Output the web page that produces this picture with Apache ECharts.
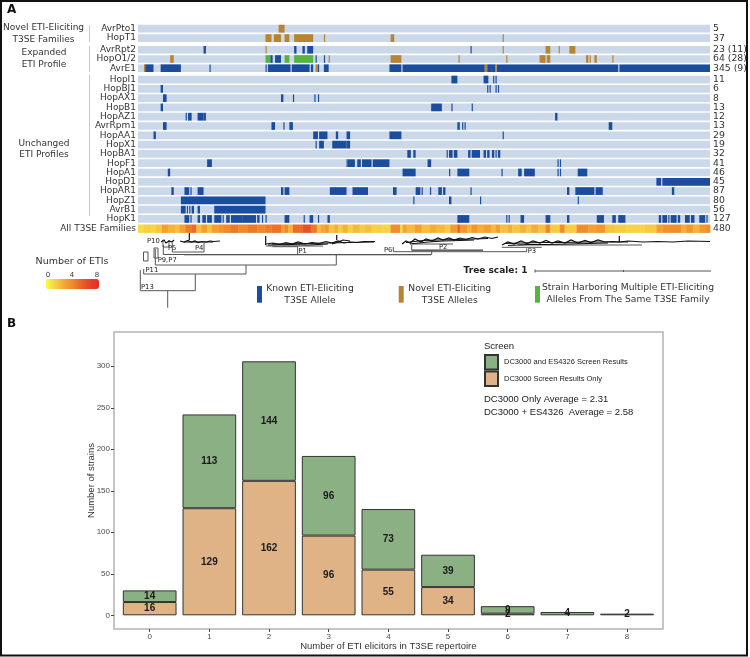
<!DOCTYPE html>
<html><head><meta charset="utf-8">
<style>html,body{margin:0;padding:0;background:#fff}#c{width:750px;height:657px}</style>
<script src="https://cdn.jsdelivr.net/npm/echarts@6/dist/echarts.min.js"></script>
</head><body><div id="c"></div>
<script>
// ---------- Panel A: strain intervals [first, last) by row ----------
const strainCount = 480;
const novelRows = ['AvrPto1','HopT1'];
const novelCounts = ['5','37'];
const expandedRows = ['AvrRpt2','HopO1/2','AvrE1'];
const expandedCounts = ['23 (11)','64 (28)','345 (9)'];
const unchangedRows = ['HopI1','HopBJ1','HopAX1','HopB1','HopAZ1','AvrRpm1','HopAA1','HopX1','HopBA1','HopF1','HopA1','HopD1','HopAR1','HopZ1','AvrB1','HopK1'];
const unchangedCounts = ['11','6','8','13','12','13','29','19','32','41','46','45','87','80','56','127'];
const allRows = ['All T3SE Families'];
const allCounts = ['480'];

const AvrPto1_novel = [[118,123]];
const HopT1_novel = [[107,112],[114,120],[123,127],[131,147],[156,157],[212,215],[306,307]];
const AvrRpt2_known = [[55,57],[131,133],[138,140],[142,147],[279,280]];
const AvrRpt2_novel = [[107,108],[306,307],[342,346],[353,354],[362,367]];
const HopO12_known = [[111,113],[115,120],[149,150],[156,157]];
const HopO12_novel = [[27,30],[160,161],[212,221],[269,270],[309,310],[337,342],[343,346],[376,378],[379,380],[383,385],[398,399]];
const HopO12_multi = [[107,111],[123,127],[131,147]];
const AvrE1_known = [[6,13],[19,36],[60,61],[107,108],[109,128],[129,144],[145,147],[151,152],[156,160],[211,221],[222,291],[293,297],[297,300],[301,403],[404,480]];
const AvrE1_novel = [[5,6],[149,151],[291,293],[300,301]];
const HopI1_known = [[263,268],[290,294],[298,299],[300,301]];
const HopBJ1_known = [[19,21],[293,294],[295,296],[300,301],[302,303]];
const HopAX1_known = [[21,24],[120,122],[130,131],[148,149],[151,152]];
const HopB1_known = [[19,21],[246,255],[263,264],[280,281]];
const HopAZ1_known = [[40,41],[42,45],[50,55],[55,57],[350,352]];
const AvrRpm1_known = [[21,24],[112,115],[122,123],[127,130],[268,270],[272,273],[274,275],[395,398]];
const HopAA1_known = [[13,15],[147,151],[152,159],[166,168],[175,178],[211,221],[306,307]];
const HopX1_known = [[149,150],[152,156],[163,175],[175,178]];
const HopBA1_known = [[226,229],[231,233],[259,260],[261,264],[265,268],[277,279],[280,287],[290,292],[293,295],[297,299],[300,301],[302,304]];
const HopF1_known = [[58,62],[175,176],[176,182],[184,187],[188,196],[197,211],[243,246],[352,353],[354,355]];
const HopA1_known = [[25,27],[222,233],[261,262],[268,278],[305,306],[319,322],[324,333],[352,353],[354,355],[369,377]];
const HopD1_known = [[435,439],[440,480]];
const HopAR1_known = [[28,30],[39,43],[44,45],[50,55],[120,122],[123,127],[161,175],[180,193],[214,217],[233,237],[238,239],[245,246],[252,255],[256,258],[279,280],[360,362],[367,383],[384,390],[448,450]];
const HopZ1_known = [[36,107],[231,232],[261,263],[287,288],[369,370]];
const AvrB1_known = [[36,40],[41,42],[43,44],[45,47],[50,52],[64,107]];
const HopK1_known = [[39,43],[44,45],[50,52],[54,57],[58,62],[64,70],[71,72],[74,77],[78,88],[88,99],[100,102],[104,105],[107,108],[123,127],[139,140],[144,147],[151,152],[159,161],[268,278],[309,310],[311,312],[321,324],[342,346],[360,362],[385,391],[398,401],[403,409],[437,439],[440,444],[445,446],[447,452],[453,455],[459,463],[464,467],[471,476],[477,478]];

// number of ETIs per run of strains: [first, last), value
const etiRuns = [[0,5,1],[5,10,1.4],[10,15,1.2],[15,20,1.8],[20,25,3],[25,31,2.4],[31,35,2],[35,40,3],[40,45,4.4],[45,49,5],[49,53,2],[53,58,3],[58,62,2],[62,68,3],[68,72,3.6],[72,78,4],[78,84,4.6],[84,92,4],[92,100,4.6],[100,106,4],[106,112,4.4],[112,120,4.8],[120,123,3.2],[123,126,4],[126,130,2.4],[130,138,5],[138,145,6],[145,150,4.6],[150,153,2],[153,157,2.8],[157,160,3.4],[160,165,1.8],[165,168,2.6],[168,172,1.6],[172,176,2.4],[176,180,1.4],[180,186,2.2],[186,190,1.6],[190,196,2],[196,205,1.4],[205,212,1.2],[212,220,3.8],[220,222,1],[222,226,2.8],[226,232,2.2],[232,238,3],[238,245,2],[245,250,2.6],[250,258,2.2],[258,262,1.6],[262,268,3.2],[268,270,5.6],[270,276,3.4],[276,280,2.4],[280,285,3.4],[285,290,2.6],[290,296,3],[296,300,2.2],[300,304,3],[304,310,2],[310,314,2.6],[314,320,1.8],[320,326,2.4],[326,330,1.8],[330,336,2.6],[336,342,2],[342,346,4],[346,354,1.5],[354,358,3.8],[358,368,1.5],[368,378,3.8],[378,385,3],[385,392,3.4],[392,400,1.8],[400,410,1.5],[410,425,1.3],[425,435,1.6],[435,440,3],[440,447,3.6],[447,456,3.8],[456,460,2.6],[460,466,3.4],[466,471,2.4],[471,476,3.4],[476,480,3.8]];

// ---------- Phylogeny: branch paths [distance along strains, depth] ----------
const branchPaths = [
 [[29.7,58.7],[29.7,75.7]],
 [[2.3,38],[2.3,58.7],[57.3,58.7],[57.3,42]],
 [[5.7,37],[5.7,42],[108,42],[108,33]],
 [[17.3,17],[17.3,33],[198.3,33],[198.3,23]],
 [[25.3,13],[25.3,22.5],[293.7,22.5],[293.7,18.5]],
 [[34.3,11],[34.3,20],[66,20],[66,11]],
 [[134.3,14.7],[159.7,14.7],[159.7,23]],
 [[127.7,14],[185,14]],
 [[255.3,15],[255.3,19.7],[388.7,19.7],[388.7,16.3]],
 [[363.7,15.3],[403.7,15.3]],
 [[380,13],[504,13]],
 [[273.7,13],[273.7,18],[345,18]],
 [[273.7,12],[315,12]],
 [[5.5,20],[5.5,29],[10,29],[10,20],[5.5,20]],
 [[16,16],[16,26],[20,26],[20,16],[16,16]],
 [[25,8],[25,15],[31,15],[31,8]],
 [[46,22.8],[293,22.8]],
 [[273.7,18.4],[345,18.4]],
 [[397,39],[574,39]],[[397,37.5],[397,40.5]],[[485.5,38],[485.5,40]],[[574,37.5],[574,40.5]]
];
const tipPaths = [
 [[23,10],[26,8],[28,11],[31,9],[34,10],[36,8]],
 [[51.3,1],[51.3,8]],
 [[42,9],[46,10],[50,8.5],[53,10],[57,9],[60,10.5],[64,9.5],[68,10],[72,9],[76,9.5],[82,9]],
 [[46,10],[60,10],[75,10]],
 [[127.7,4],[127.7,13]],
 [[128,12],[135,11],[141,12.5],[148,10.5],[154,12],[160,10],[167,12],[174,10.5],[181,11.5],[188,9.5],[194,11],[200,9],[206,11],[212,10],[219,10.5],[226,9.5],[237,9.5]],
 [[130,13],[150,12.5],[170,13],[190,12]],
 [[134,12],[150,11.8],[170,11.5],[190,11],[210,10.5],[236,10]],
 [[198.7,3],[198.7,8]],
 [[194,12],[200,10],[205,8],[212,9]],
 [[264,12],[268,9],[272,11],[277,7],[283,10],[288,7],[294,9],[300,6],[305,8],[311,6],[316,8],[322,6],[328,7.5],[334,5.5],[340,7],[347,5],[354,6.5],[360,5]],
 [[272,12],[290,10],[306,9],[322,8.5],[336,8]],
 [[268,10.5],[285,8.5],[300,8],[318,7.5],[335,7],[350,6.5]],
 [[364,13],[370,10],[376,12],[383,9],[389,11.5],[395,9],[402,11],[408,8.5],[414,11],[420,9],[427,11],[433,8],[440,11],[447,8.5],[453,10.5],[460,8],[467,10],[475,9.5],[481,10],[490,9],[505,10],[520,9.5],[535,10],[550,9],[572,9.5]],
 [[370,13.5],[390,12.5],[410,12.5],[430,12],[450,11.5],[470,11]],
 [[366,11.5],[385,11],[405,10.5],[425,10.5],[445,10],[465,10],[490,10]],
 [[481.3,4],[481.3,10]]
];

// ---------- Panel B ----------
const elicitorCounts = ['0','1','2','3','4','5','6','7','8'];
const dc3000Only = [16,129,162,96,55,34,2,null,null];
const dc3000AndEs4326 = [14,113,144,96,73,39,9,4,2];
const strainTicks = [0,50,100,150,200,250,300];

// ---------- Styling ----------
const C_BG='#cbd8ea', C_KNOWN='#1b4d9e', C_NOVEL='#b8842f', C_MULTI='#53b53e';
const FA='"DejaVu Sans",sans-serif', FB='"Liberation Sans",Arial,sans-serif';
const groups = [
 {rows:novelRows,counts:novelCounts,top:24,height:18.8},
 {rows:expandedRows,counts:expandedCounts,top:45.2,height:27.6},
 {rows:unchangedRows,counts:unchangedCounts,top:74.9,height:148.7},
 {rows:allRows,counts:allCounts,top:224.5,height:8.4}
];
const knownByRow = {AvrRpt2:AvrRpt2_known,'HopO1/2':HopO12_known,AvrE1:AvrE1_known,HopI1:HopI1_known,HopBJ1:HopBJ1_known,HopAX1:HopAX1_known,HopB1:HopB1_known,HopAZ1:HopAZ1_known,AvrRpm1:AvrRpm1_known,HopAA1:HopAA1_known,HopX1:HopX1_known,HopBA1:HopBA1_known,HopF1:HopF1_known,HopA1:HopA1_known,HopD1:HopD1_known,HopAR1:HopAR1_known,HopZ1:HopZ1_known,AvrB1:AvrB1_known,HopK1:HopK1_known};
const novelByRow = {AvrPto1:AvrPto1_novel,HopT1:HopT1_novel,AvrRpt2:AvrRpt2_novel,'HopO1/2':HopO12_novel,AvrE1:AvrE1_novel};
const multiByRow = {'HopO1/2':HopO12_multi};

function renderInterval(params, api){
  const r = api.value(2);
  const a = api.coord([api.value(0), r]), b = api.coord([api.value(1), r]);
  const h = api.size([0,1])[1]*0.83;
  return {type:'rect',shape:{x:a[0],y:a[1]-h/2,width:b[0]-a[0],height:h},style:api.style()};
}
function renderCell(params, api){
  const a = api.coord([api.value(0), 0]), b = api.coord([api.value(1), 0]);
  const h = api.size([0,1])[1];
  return {type:'rect',shape:{x:a[0],y:a[1]-h/2,width:b[0]-a[0]+0.3,height:h},style:{fill:api.visual('color')}};
}

const grids=[],xAxes=[],yAxes=[],series=[];
groups.forEach((g,i)=>{
  grids.push({left:138,width:572,top:g.top,height:g.height});
  xAxes.push({type:'value',gridIndex:i,min:0,max:strainCount,show:false});
  const yBase={type:'category',gridIndex:i,inverse:true,axisLine:{show:false},axisTick:{show:false},splitLine:{show:false}};
  yAxes.push(Object.assign({},yBase,{position:'left',data:g.rows,axisLabel:{interval:0,margin:2,fontFamily:FA,fontSize:9,color:'#333'}}));
  yAxes.push(Object.assign({},yBase,{position:'right',data:g.counts,axisLabel:{interval:0,margin:3,fontFamily:FA,fontSize:9.3,color:'#333'}}));
});
function addIntervals(i,g,byRow,color,name){
  const data=[];
  g.rows.forEach((r,k)=>{(byRow[r]||[]).forEach(iv=>data.push([iv[0],iv[1],k]));});
  if(data.length) series.push({type:'custom',name,coordinateSystem:'cartesian2d',xAxisIndex:i,yAxisIndex:i*2,silent:true,
    renderItem:renderInterval,itemStyle:{color},encode:{x:[0,1],y:2},data,z:name==='bg'?1:2});
}
groups.slice(0,3).forEach((g,i)=>{
  addIntervals(i,g,Object.fromEntries(g.rows.map(r=>[r,[[0,strainCount]]])),C_BG,'bg');
  addIntervals(i,g,knownByRow,C_KNOWN,'known');
  addIntervals(i,g,novelByRow,C_NOVEL,'novel');
  addIntervals(i,g,multiByRow,C_MULTI,'multi');
});
const heatSeriesIndex = series.length;
series.push({type:'custom',name:'ETIs',coordinateSystem:'cartesian2d',xAxisIndex:3,yAxisIndex:6,silent:true,
  renderItem:renderCell,encode:{x:[0,1],y:2},data:etiRuns.map(r=>[r[0],r[1],0,r[2]])});
[1,3,5,7].forEach((yi,k)=>series.push({type:'scatter',xAxisIndex:k,yAxisIndex:yi,symbolSize:0,silent:true,data:[]}));

// tree grid
const T=groups.length;
grids.push({left:138,width:572,top:232,height:76});
xAxes.push({type:'value',gridIndex:T,min:0,max:572,show:false});
yAxes.push({type:'value',gridIndex:T,min:0,max:76,inverse:true,show:false});
const treeY=yAxes.length-1, treeX=xAxes.length-1;
series.push({type:'lines',coordinateSystem:'cartesian2d',xAxisIndex:treeX,yAxisIndex:treeY,polyline:true,silent:true,
  lineStyle:{color:'#555',width:1,opacity:1},data:branchPaths.map(c=>({coords:c}))});
series.push({type:'lines',coordinateSystem:'cartesian2d',xAxisIndex:treeX,yAxisIndex:treeY,polyline:true,silent:true,
  lineStyle:{color:'#111',width:1.2,opacity:1},data:tipPaths.map(c=>({coords:c}))});

// panel B frame
grids.push({left:114,width:549,top:332,height:297,show:true,borderColor:'#b3b3b3',borderWidth:1.5,backgroundColor:'#fff',z:0});
xAxes.push({type:'value',gridIndex:T+1,min:0,max:1,show:false});
yAxes.push({type:'value',gridIndex:T+1,min:0,max:1,show:false});

// bar grid
grids.push({left:119.85,width:537,top:332,height:297});
const B=xAxes.length;
xAxes.push({type:'category',gridIndex:T+2,data:elicitorCounts,splitLine:{show:false},axisLine:{show:false,onZero:false},
  name:'Number of ETI elicitors in T3SE repertoire',nameLocation:'middle',nameGap:12,nameMoveOverlap:false,
  nameTextStyle:{fontFamily:FB,fontSize:9.5,color:'#333'},
  axisTick:{show:true,alignWithLabel:true,length:3,lineStyle:{color:'#444'}},
  axisLabel:{fontFamily:FB,fontSize:8,color:'#4d4d4d',margin:4}});
const By=yAxes.length;
yAxes.push({type:'value',gridIndex:T+2,min:-16.5,max:341.3,splitLine:{show:false},axisLine:{show:false,onZero:false},
  position:'left',offset:5.85,
  name:'Number of strains',nameLocation:'middle',nameGap:18,nameMoveOverlap:false,nameTextStyle:{fontFamily:FB,fontSize:9.5,color:'#333'},
  axisTick:{show:true,length:3,lineStyle:{color:'#444'},customValues:strainTicks},
  axisLabel:{fontFamily:FB,fontSize:8,color:'#4d4d4d',margin:4,customValues:strainTicks}});
function barSeries(name,vals,color){
  return {type:'bar',name,stack:'t',xAxisIndex:B,yAxisIndex:By,barWidth:'90%',z:5,
    itemStyle:{color,borderColor:'#333',borderWidth:1},
    label:{show:true,position:'inside',fontFamily:FB,fontWeight:'bold',fontSize:10,color:'#1a1a1a'},
    data:vals};
}
series.push(barSeries('DC3000 Screen Results Only',dc3000Only,'#e0b387'));
series.push(barSeries('DC3000 and ES4326 Screen Results',dc3000AndEs4326,'#8bb083'));

// free text and furniture
function txt(x,y,text,o){return {type:'text',x,y,silent:true,z:20,style:Object.assign({text,fontFamily:FA,fontSize:9,fill:'#333',align:'center',verticalAlign:'middle'},o||{})};}
function line(x,y1,y2){return {type:'line',silent:true,shape:{x1:x,y1,x2:x,y2},style:{stroke:'#b8cce4',lineWidth:1}};}
const pLab={fontSize:6.8,align:'left',fill:'#222'};
const graphics=[
 {type:'rect',silent:true,z:30,shape:{x:1,y:1,width:746,height:654.5},style:{fill:'none',stroke:'#111',lineWidth:2}},
 txt(7,9.5,'A',{fontWeight:'bold',fontSize:12,align:'left',fill:'#111',fontFamily:FA}),
 txt(7,323.5,'B',{fontWeight:'bold',fontSize:12,align:'left',fill:'#111',fontFamily:FA}),
 txt(43.5,28,'Novel ETI-Eliciting'),txt(43.5,39.5,'T3SE Families'),
 txt(44,53,'Expanded'),txt(44,64.5,'ETI Profile'),
 txt(44,143.5,'Unchanged'),txt(44,155,'ETI Profiles'),
 line(89.5,25,42),line(89.5,46,72),line(89.5,75,216),
 txt(72,262,'Number of ETIs',{fontSize:9.5}),
 txt(48,275.5,'0',{fontSize:7}),txt(72,275.5,'4',{fontSize:7}),txt(97,275.5,'8',{fontSize:7}),
 {type:'rect',silent:true,shape:{x:257,y:286,width:5,height:16.7},style:{fill:C_KNOWN}},
 {type:'rect',silent:true,shape:{x:398.7,y:286,width:5,height:16.7},style:{fill:C_NOVEL}},
 {type:'rect',silent:true,shape:{x:535,y:286,width:5,height:16.7},style:{fill:C_MULTI}},
 txt(310,289,'Known ETI-Eliciting',{fontSize:9.2}),txt(310,300.5,'T3SE Allele',{fontSize:9.2}),
 txt(449.7,289,'Novel ETI-Eliciting',{fontSize:9.2}),txt(449.7,300.5,'T3SE Alleles',{fontSize:9.2}),
 txt(628,288,'Strain Harboring Multiple ETI-Eliciting',{fontSize:9.2}),txt(628,299.5,'Alleles From The Same T3SE Family',{fontSize:9.2}),
 txt(495.5,271,'Tree scale: 1',{fontWeight:'bold',fill:'#222'}),
 txt(147,241,'P10',pLab),txt(168,248.5,'P5',pLab),txt(195,248,'P4',pLab),txt(298.5,251.5,'P1',pLab),
 txt(145.5,270,'P11',pLab),txt(157.7,260.5,'P9,P7',pLab),txt(141,287,'P13',pLab),
 txt(384,250.7,'P6',pLab),txt(439,247,'P2',pLab),txt(527.7,251.5,'P3',pLab),
 txt(484,346,'Screen',{fontFamily:FB,fontSize:9.5,align:'left',fill:'#222'}),
 txt(484,399.5,'DC3000 Only Average = 2.31',{fontFamily:FB,fontSize:9.5,align:'left',fill:'#222'}),
 txt(484,412,'DC3000 + ES4326  Average = 2.58',{fontFamily:FB,fontSize:9.5,align:'left',fill:'#222'})
];

const chart=echarts.init(document.getElementById('c'),null,{renderer:'canvas'});
chart.setOption({
  animation:false,backgroundColor:'#fff',
  grid:grids,xAxis:xAxes,yAxis:yAxes,series,graphic:graphics,
  legend:{show:true,orient:'vertical',left:484,top:354,padding:0,itemGap:0,itemWidth:13,itemHeight:14.5,selectedMode:false,icon:'rect',
    data:['DC3000 and ES4326 Screen Results','DC3000 Screen Results Only'],
    textStyle:{fontFamily:FB,fontSize:7.5,color:'#222',padding:[0,0,0,1]}},
  visualMap:{type:'continuous',min:0,max:8,dimension:3,seriesIndex:heatSeriesIndex,orient:'horizontal',left:46,top:279,padding:0,
    itemWidth:10,itemHeight:53,calculable:false,realtime:false,text:null,showLabel:false,hoverLink:false,
    inRange:{color:['#fffb3c','#f5dc48','#f4c040','#f2a032','#ee8a2c','#ea6c28','#e6522a','#e83a26','#ec2a24']},textStyle:{fontSize:0}}
});
</script></body></html>
